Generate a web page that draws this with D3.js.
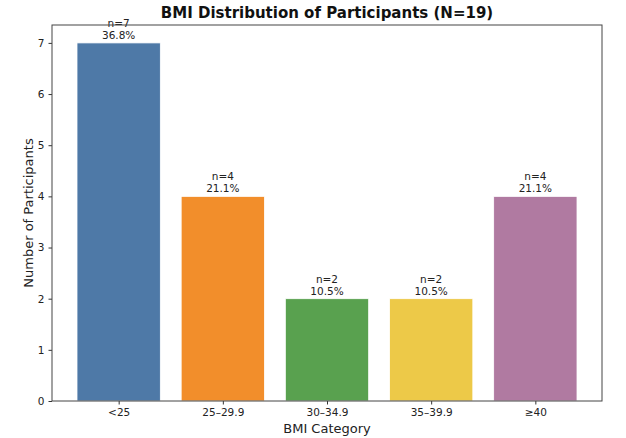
<!DOCTYPE html>
<html><head><meta charset="utf-8">
<script src="https://cdn.jsdelivr.net/npm/d3@7"></script>
<style>body{margin:0;background:#fff;font-family:"DejaVu Sans",sans-serif;}</style>
</head><body><svg id="c" width="626" height="438"></svg>
<script>
const categories = ["<25", "25–29.9", "30–34.9", "35–39.9", "≥40"];
const counts = [7, 4, 2, 2, 4];
const percents = ["36.8%", "21.1%", "10.5%", "10.5%", "21.1%"];
const colors = ["#4e79a7", "#f28e2b", "#59a14f", "#edc948", "#b07aa1"];
const yTicks = [0, 1, 2, 3, 4, 5, 6, 7];

const svg = d3.select("#c");
const L = 52, R = 602, T = 25, B = 401;
const x = d3.scaleLinear().domain([-0.64, 4.64]).range([L, R]);
const y = d3.scaleLinear().domain([0, 7.35]).range([B, T]);
const bw = x(0.8) - x(0);

svg.selectAll("rect.bar").data(counts).join("rect")
  .attr("x", (d, i) => x(i - 0.4)).attr("width", bw)
  .attr("y", d => y(d)).attr("height", d => y(0) - y(d))
  .attr("fill", (d, i) => colors[i]).attr("stroke", "#fff").attr("stroke-width", 0.8);

const lab = svg.append("g").attr("font-size", 10.5).attr("fill", "#222").attr("text-anchor", "middle");
counts.forEach((d, i) => {
  lab.append("text").attr("x", x(i)).attr("y", y(d) - 16).text("n=" + d);
  lab.append("text").attr("x", x(i)).attr("y", y(d) - 4).text(percents[i]);
});

const yAxis = svg.append("g").attr("transform", `translate(${L},0)`)
  .call(d3.axisLeft(y).tickValues(yTicks).tickFormat(d3.format("d")).tickSize(3.5).tickPadding(4));
const xAxis = svg.append("g").attr("transform", `translate(0,${B})`)
  .call(d3.axisBottom(x).tickValues([0,1,2,3,4]).tickFormat(i => categories[i]).tickSize(3.5).tickPadding(4));
[yAxis, xAxis].forEach(g => {
  g.select(".domain").remove();
  g.selectAll("text").attr("font-size", 10.5).attr("fill", "#222").attr("font-family", "DejaVu Sans");
  g.selectAll("line").attr("stroke", "#333");
});
svg.append("rect").attr("x", L).attr("y", T).attr("width", R - L).attr("height", B - T)
  .attr("fill", "none").attr("stroke", "#444").attr("stroke-width", 1);

svg.append("text").attr("x", (L + R) / 2).attr("y", 18).attr("text-anchor", "middle")
  .attr("font-size", 15).attr("font-weight", "bold").attr("fill", "#111").text("BMI Distribution of Participants (N=19)");
svg.append("text").attr("x", (L + R) / 2).attr("y", 433).attr("text-anchor", "middle")
  .attr("font-size", 13).attr("fill", "#222").text("BMI Category");
svg.append("text").attr("transform", `translate(33,${(T + B) / 2}) rotate(-90)`).attr("text-anchor", "middle")
  .attr("font-size", 13).attr("fill", "#222").text("Number of Participants");
</script></body></html>
